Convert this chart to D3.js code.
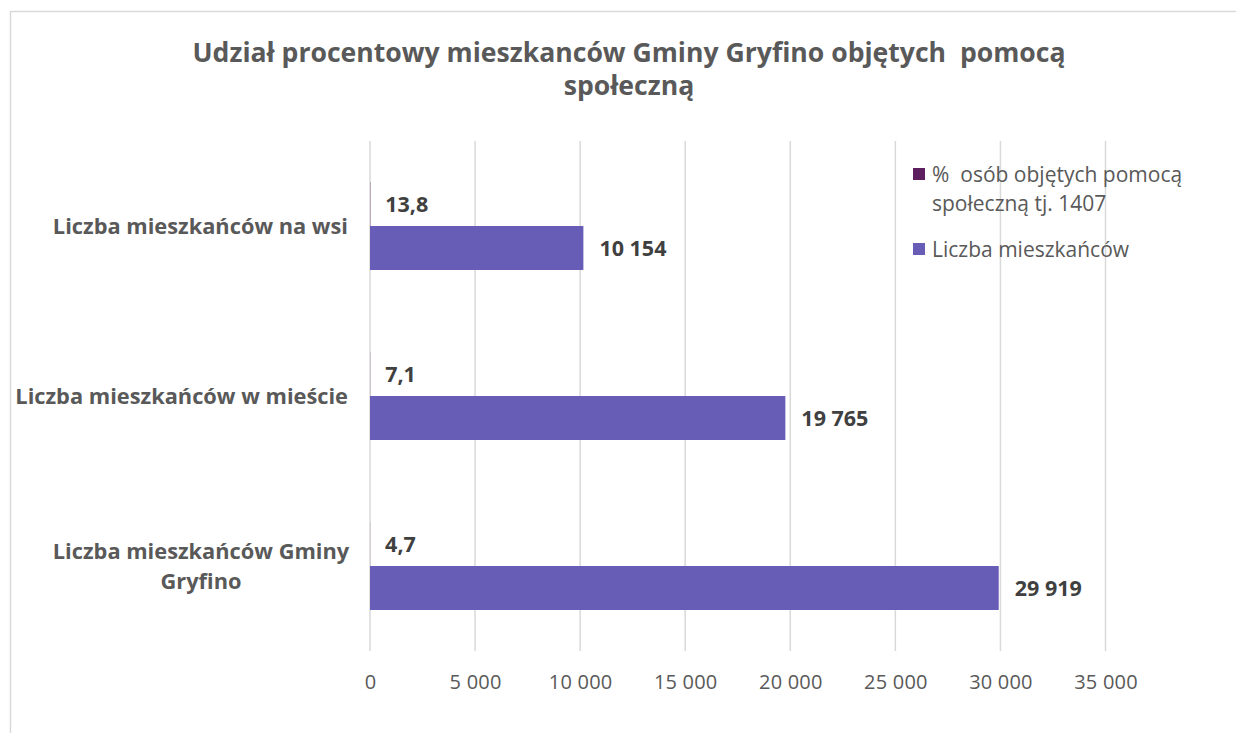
<!DOCTYPE html>
<html><head><meta charset="utf-8">
<script src="https://cdn.jsdelivr.net/npm/d3@7"></script>
<style>body{margin:0;background:#fff}svg{display:block}text{white-space:pre}</style>
</head><body>
<svg id="c" width="1236" height="733"></svg>
<script>
const categories = [
  ["Liczba mieszkańców na wsi"],
  ["Liczba mieszkańców w mieście"],
  ["Liczba mieszkańców Gminy", "Gryfino"]
];
const seriesNames = ["%  osób objętych pomocą społeczną tj. 1407", "Liczba mieszkańców"];
const pctValues = [13.8, 7.1, 4.7];
const popValues = [10154, 19765, 29919];
const pctLabels = ["13,8", "7,1", "4,7"];
const popLabels = ["10 154", "19 765", "29 919"];
const xTicks = [0, 5000, 10000, 15000, 20000, 25000, 30000, 35000];
const titleLines = ["Udział procentowy mieszkanców Gminy Gryfino objętych  pomocą", "społeczną"];
const legendLines = [["%  osób objętych pomocą", "społeczną tj. 1407"], ["Liczba mieszkańców"]];
const colors = ["#5E1F5F", "#675DB7"];

const svg = d3.select("#c");
const txt = "#595959";
const FONT = "'Open Sans', sans-serif";

// frame
svg.append("rect").attr("x", 10.5).attr("y", 11.5).attr("width", 1300).attr("height", 800)
  .attr("fill", "#fff").attr("stroke", "#d9d9d9").attr("stroke-width", 1.5);

// title
const tt = svg.append("g").selectAll("text").data(titleLines).join("text")
  .attr("x", 629).attr("y", (d, i) => 62 + i * 33)
  .attr("text-anchor", "middle").attr("font-family", FONT).attr("font-weight", 700)
  .attr("font-size", 26).attr("fill", txt).text(d => d);
const w0 = tt.nodes()[0].getComputedTextLength();
const ratio = 873 / w0;
tt.each(function() {
  const w = this.getComputedTextLength();
  d3.select(this).attr("textLength", w * ratio).attr("lengthAdjust", "spacingAndGlyphs");
});

const x = d3.scaleLinear().domain([0, 35000]).range([370, 1105.5]);
const y = d3.scaleBand().domain(d3.range(categories.length)).range([141, 651])
  .paddingInner(0.4824).paddingOuter(0.2412);
const ySub = d3.scaleBand().domain([0, 1]).range([0, y.bandwidth()]);

// gridlines
svg.append("g").selectAll("line").data(xTicks).join("line")
  .attr("x1", d => x(d)).attr("x2", d => x(d)).attr("y1", 141).attr("y2", 651)
  .attr("stroke", "#d9d9d9").attr("stroke-width", 1.5);

// x axis
const ax = svg.append("g").attr("transform", "translate(0,651)")
  .call(d3.axisBottom(x).tickValues(xTicks).tickSize(0).tickPadding(24)
    .tickFormat(d => d3.format(",")(d).replace(/,/g, " ")));
ax.select(".domain").remove();
ax.selectAll("text").attr("font-family", FONT).attr("font-size", 20).attr("fill", txt)
  .attr("letter-spacing", 0.2);

// bars
const groups = svg.append("g").selectAll("g").data(categories).join("g")
  .attr("transform", (d, i) => `translate(0,${y(i)})`);
groups.append("rect").attr("x", x(0)).attr("y", ySub(0)).attr("height", ySub.bandwidth())
  .attr("width", (d, i) => x(pctValues[i]) - x(0)).attr("fill", colors[0]);
groups.append("rect").attr("x", x(0)).attr("y", ySub(1)).attr("height", ySub.bandwidth())
  .attr("width", (d, i) => x(popValues[i]) - x(0)).attr("fill", colors[1]);
groups.append("text").attr("x", (d, i) => x(pctValues[i]) + 15)
  .attr("y", ySub(0) + ySub.bandwidth() / 2).attr("dy", "0.36em")
  .attr("font-family", FONT).attr("font-weight", 700).attr("font-size", 21.5).attr("fill", "#404040")
  .text((d, i) => pctLabels[i]);
groups.append("text").attr("x", (d, i) => x(popValues[i]) + 16)
  .attr("y", ySub(1) + ySub.bandwidth() / 2).attr("dy", "0.36em")
  .attr("font-family", FONT).attr("font-weight", 700).attr("font-size", 21.5).attr("fill", "#404040")
  .text((d, i) => popLabels[i]);

// category labels
groups.each(function(lines, i) {
  const g = d3.select(this);
  const cy = y.bandwidth() / 2;
  const multi = lines.length > 1;
  lines.forEach((ln, j) => {
    g.append("text")
      .attr("x", multi ? 201 : 348)
      .attr("text-anchor", multi ? "middle" : "end")
      .attr("y", cy + (j - (lines.length - 1) / 2) * 30).attr("dy", "0.36em")
      .attr("font-family", FONT).attr("font-weight", 700).attr("font-size", 21.8)
      .attr("fill", txt).text(ln);
  });
});

// legend
const lg = svg.append("g");
const legendY = [174, 249];
legendLines.forEach((lines, i) => {
  lg.append("rect").attr("x", 913).attr("y", legendY[i] - 6).attr("width", 12).attr("height", 12)
    .attr("fill", colors[i]);
  lines.forEach((ln, j) => {
    lg.append("text").attr("x", 932).attr("y", legendY[i] + j * 29).attr("dy", "0.36em")
      .attr("font-family", FONT).attr("font-size", 21).attr("fill", txt).text(ln);
  });
});
</script>
</body></html>
